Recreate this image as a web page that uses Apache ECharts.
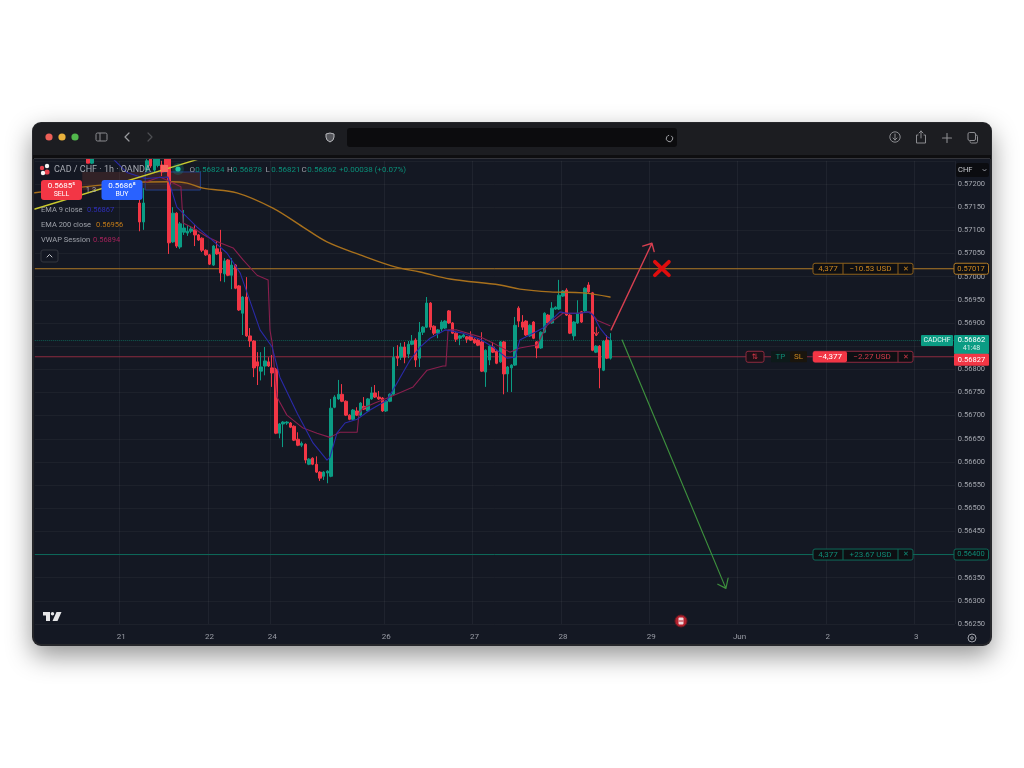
<!DOCTYPE html>
<html><head><meta charset="utf-8">
<script src="https://cdn.jsdelivr.net/npm/echarts@6/dist/echarts.min.js"></script>
<style>html,body{margin:0;padding:0;background:#fff}#c{width:1024px;height:768px;filter:blur(0.35px)}</style>
</head><body><div id="c"></div>
<script>
// ---------- data ----------
const firstBar = 14;
const barCount = 250;
const dayLabels = ['21','22','24','26','27','28','29','Jun','2','3'];
const dayBars = [23,47,64,95,119,143,167,191,215,239];
const priceTicksMin = 0.5625, priceTicksMax = 0.5725, priceTickStep = 0.0005;

const opens = [0.57290,0.57245,null,null,null,null,null,null,null,null,null,null,null,null,
0.57159,0.57118,0.57230,0.57273,0.57230,0.57240,0.57241,0.57260,
0.57256,0.57075,0.57137,0.57064,0.57096,0.57094,0.57098,0.57101,0.57090,0.57083,
0.57057,0.57047,0.57025,0.57060,0.57053,0.57006,0.57036,0.57003,0.57025,0.56980,
0.56921,0.56956,0.56872,0.56861,0.56816,0.56796,0.56807,0.56816,0.56803,0.56800,
0.56662,0.56682,0.56684,0.56684,0.56677,0.56649,0.56636,0.56638,0.56595,0.56608,
0.56595,0.56578,0.56569,0.56576,0.56569,0.56718,0.56736,0.56746,0.56731,0.56701,
0.56692,0.56710,0.56701,0.56720,0.56710,0.56736,0.56749,0.56740,0.56738,0.56710,
0.56731,0.56746,0.56828,0.56826,0.56848,0.56833,0.56854,0.56863,0.56824,0.56880,
0.56891,0.56943,0.56893,0.56878,0.56887,0.56889,0.56926,0.56900,0.56878,0.56867,
0.56870,0.56870,0.56872,0.56865,0.56863,0.56859,0.56794,0.56820,0.56848,0.56839,
0.56816,0.56859,0.56790,0.56803,0.56809,0.56932,0.56902,0.56904,0.56872,0.56902,
0.56859,0.56846,0.56880,0.56917,0.56900,0.56930,0.56930,0.56958,0.56971,0.56917,
0.56872,0.56900,0.56924,0.56926,0.56982,0.56965,0.56837,0.56850,0.56798,0.56863,0.56824];
const closes = [0.57245,0.57290,null,null,null,null,null,null,null,null,null,null,null,null,
0.57118,0.57159,0.57250,0.57239,0.57265,0.57270,0.57226,0.57230,
0.57073,0.57137,0.57066,0.57114,0.57105,0.57098,0.57103,0.57090,0.57079,0.57057,
0.57047,0.57027,0.57066,0.57049,0.57008,0.57034,0.57003,0.57025,0.56975,0.56928,
0.56956,0.56872,0.56861,0.56803,0.56807,0.56805,0.56818,0.56807,0.56792,0.56662,
0.56682,0.56686,0.56686,0.56675,0.56647,0.56636,0.56640,0.56604,0.56606,0.56595,
0.56578,0.56565,0.56578,0.56580,0.56716,0.56740,0.56746,0.56731,0.56701,0.56692,
0.56712,0.56701,0.56727,0.56714,0.56736,0.56749,0.56740,0.56736,0.56710,0.56731,
0.56746,0.56826,0.56824,0.56848,0.56826,0.56854,0.56861,0.56820,0.56880,0.56891,
0.56943,0.56891,0.56878,0.56885,0.56902,0.56904,0.56900,0.56878,0.56865,0.56872,
0.56874,0.56865,0.56863,0.56857,0.56852,0.56796,0.56841,0.56850,0.56837,0.56813,
0.56859,0.56790,0.56805,0.56809,0.56895,0.56904,0.56891,0.56874,0.56895,0.56867,
0.56846,0.56880,0.56921,0.56900,0.56932,0.56934,0.56960,0.56969,0.56917,0.56878,
0.56902,0.56921,0.56902,0.56975,0.56967,0.56841,0.56850,0.56803,0.56861,0.56824,0.56862];
const lows = [0.57245,0.57243,null,null,null,null,null,null,null,null,null,null,null,null,
0.57098,0.57101,0.57226,0.57235,0.57226,0.57236,0.57217,0.57226,
0.57049,0.57073,0.57062,0.57060,0.57090,0.57088,0.57094,0.57066,0.57077,0.57053,
0.57045,0.57025,0.57023,0.57047,0.56990,0.56988,0.57001,0.56973,0.56973,0.56926,
0.56874,0.56870,0.56848,0.56783,0.56766,0.56776,0.56787,0.56805,0.56762,0.56660,
0.56651,0.56632,0.56680,0.56673,0.56645,0.56634,0.56632,0.56597,0.56593,0.56593,
0.56576,0.56559,0.56561,0.56554,0.56567,0.56716,0.56734,0.56729,0.56699,0.56690,
0.56690,0.56699,0.56699,0.56712,0.56708,0.56734,0.56738,0.56734,0.56708,0.56708,
0.56729,0.56744,0.56807,0.56820,0.56813,0.56824,0.56852,0.56805,0.56805,0.56874,
0.56889,0.56885,0.56874,0.56867,0.56882,0.56887,0.56898,0.56876,0.56859,0.56852,
0.56868,0.56857,0.56861,0.56855,0.56850,0.56794,0.56762,0.56809,0.56835,0.56811,
0.56814,0.56746,0.56751,0.56751,0.56807,0.56891,0.56885,0.56872,0.56870,0.56865,
0.56824,0.56844,0.56878,0.56898,0.56898,0.56928,0.56928,0.56956,0.56915,0.56876,
0.56863,0.56898,0.56900,0.56924,0.56965,0.56839,0.56835,0.56759,0.56796,0.56822,0.56821];
const highs = [0.57295,0.57295,null,null,null,null,null,null,null,null,null,null,null,null,
0.57176,0.57191,0.57260,0.57280,0.57270,0.57275,0.57250,0.57265,
0.57262,0.57150,0.57139,0.57118,0.57144,0.57111,0.57109,0.57111,0.57092,0.57085,
0.57059,0.57049,0.57068,0.57077,0.57101,0.57040,0.57038,0.57040,0.57027,0.56982,
0.56958,0.56999,0.56889,0.56863,0.56837,0.56837,0.56848,0.56826,0.56831,0.56803,
0.56684,0.56688,0.56688,0.56686,0.56679,0.56664,0.56644,0.56640,0.56608,0.56610,
0.56612,0.56580,0.56580,0.56582,0.56736,0.56744,0.56777,0.56768,0.56733,0.56703,
0.56714,0.56718,0.56729,0.56740,0.56738,0.56762,0.56766,0.56753,0.56740,0.56733,
0.56748,0.56848,0.56852,0.56857,0.56859,0.56861,0.56874,0.56867,0.56902,0.56893,
0.56956,0.56945,0.56895,0.56887,0.56906,0.56906,0.56928,0.56902,0.56880,0.56874,
0.56876,0.56872,0.56882,0.56867,0.56865,0.56880,0.56843,0.56852,0.56859,0.56841,
0.56861,0.56861,0.56807,0.56811,0.56913,0.56936,0.56917,0.56906,0.56897,0.56904,
0.56861,0.56882,0.56923,0.56919,0.56945,0.56936,0.56993,0.56971,0.56975,0.56919,
0.56904,0.56949,0.56926,0.56977,0.56988,0.56967,0.56852,0.56852,0.56863,0.56874,0.56878];

// indicator vertices: [bar position, price]
const ema9 = [[21.3,0.57254],[25,0.57225],[30,0.57212],[36.2,0.57215],[37.3,0.57183],[38.6,0.57150],[40.8,0.57133],[44.1,0.57107],[47.6,0.57083],[52.2,0.57051],[55.8,0.57008],[57.7,0.56965],[61.2,0.56885],[64.5,0.56848],[66.6,0.56783],[71.3,0.56705],[75.6,0.56641],[79.4,0.56604],[80.2,0.56610],[82.1,0.56662],[84.3,0.56684],[87.6,0.56692],[91.1,0.56712],[95.7,0.56733],[98.4,0.56770],[102,0.56820],[104.7,0.56848],[107.4,0.56867],[111.5,0.56885],[116.4,0.56878],[121,0.56865],[124.5,0.56848],[128.3,0.56824],[130.5,0.56826],[131.8,0.56863],[135.4,0.56878],[138.1,0.56889],[142.7,0.56924],[144.6,0.56921],[148.1,0.56921],[150.3,0.56924],[151.7,0.56917],[153.6,0.56889],[155.5,0.56870],[156.3,0.56867]];
const ema200 = [[0,0.57181],[28.6,0.57204],[36.7,0.57205],[41.4,0.57202],[45.7,0.57191],[54.9,0.57181],[64.7,0.57148],[72.9,0.57107],[79.4,0.57075],[88.4,0.57047],[97.9,0.57021],[104.7,0.57010],[112.8,0.56995],[126.4,0.56982],[131.8,0.56973],[140,0.56967],[149,0.56965],[156.3,0.56956]];
const vwap = [[30,0.57204],[34,0.57215],[37.6,0.57202],[39.7,0.57194],[40.3,0.57116],[43,0.57105],[46.8,0.57086],[50.3,0.57073],[53.9,0.57062],[56.6,0.57036],[60.4,0.57003],[63.4,0.56993],[63.9,0.56885],[64.5,0.56857],[65.8,0.56740],[68.5,0.56701],[72.9,0.56673],[76.7,0.56662],[80.2,0.56653],[82.9,0.56664],[87.6,0.56664],[88.1,0.56705],[89.2,0.56716],[92.4,0.56727],[96.5,0.56740],[102.8,0.56762],[106.6,0.56798],[110.9,0.56807],[111.7,0.56807],[112.3,0.56885],[114.7,0.56885],[121,0.56870],[124.5,0.56857],[129.1,0.56837],[131.8,0.56846],[135.9,0.56852],[136.5,0.56852],[139.2,0.56895],[143.5,0.56921],[147.4,0.56921],[150.9,0.56924],[152.8,0.56906],[156.3,0.56894]];
const stopPrice = 0.57017, entryPrice = 0.56827, targetPrice = 0.56400, lastPrice = 0.56862;
const yellowTrend = [[0.05,0.57146],[45.4,0.57256]];
const upArrow = [[156.6,0.56885],[167.7,0.57072],[165.2,0.57066],[167.7,0.57072],[168.3,0.57054]];
const downArrow = [[159.6,0.56863],[187.8,0.56327],[185.6,0.56336],[187.8,0.56327],[188.4,0.56349]];
const sellMark = [[152.6,0.56891],[152.6,0.56872],[152.0,0.56880],[152.6,0.56872],[153.2,0.56880]];
const crossA = [[168.5,0.57032],[172.3,0.57003]];
const crossB = [[168.5,0.57003],[172.3,0.57032]];

// ---------- chart ----------
const chart = echarts.init(document.getElementById('c'), null, {renderer:'canvas'});
const FONT = 'Roboto';
const GREEN = '#0b9c84', RED = '#f23645', BG = '#141823';
const categories = Array.from({length:barCount}, (_,i)=>{
  const k = dayBars.indexOf(i); return k>=0 ? dayLabels[k] : 'b'+i;
});
const candleData = Array.from({length:barCount}, (_,i)=>{
  const k = i-firstBar;
  if (k<0 || k>=opens.length || opens[k]==null) return ['-','-','-','-'];
  return [opens[k],closes[k],lows[k],highs[k]];
});
const line = (data,color,width,extra)=>Object.assign({
  type:'line', xAxisIndex:1, yAxisIndex:0, data, showSymbol:false, symbol:'none', silent:true,
  animation:false, lineStyle:{color,width,cap:'round',join:'round'}
},extra||{});
const level = (p,color,type)=>line([[0,p],[barCount,p]],color,1,{lineStyle:{color,width:1,type:type||'solid'},z:1});

chart.setOption({
  animation:false,
  backgroundColor:'#ffffff',
  grid:{left:34.8,top:160.84,width:920,height:463.2,containLabel:false},
  xAxis:[{
    type:'category',data:categories,boundaryGap:true,
    axisLine:{show:false},axisTick:{show:false},
    axisLabel:{color:'#9a9da6',fontFamily:FONT,fontSize:8,margin:9,
      interval:(i)=>dayBars.includes(i)},
    splitLine:{show:true,interval:(i)=>dayBars.includes(i),lineStyle:{color:'rgba(255,255,255,0.05)',width:1}}
  },{type:'value',min:0,max:barCount,show:false}],
  yAxis:{
    type:'value',position:'right',min:priceTicksMin,max:priceTicksMax,interval:priceTickStep,scale:true,
    axisLine:{show:false},axisTick:{show:false},
    axisLabel:{color:'#a3a6ae',fontFamily:FONT,fontSize:7.5,margin:3,
      formatter:(v)=>v>=priceTicksMax-1e-7?'':v.toFixed(5)},
    splitLine:{show:true,lineStyle:{color:'rgba(255,255,255,0.04)',width:1}}
  },
  series:[
    level(stopPrice,'#b07a26'),
    level(entryPrice,'#8d2a3f'),
    level(targetPrice,'#0d6a5a'),
    level(lastPrice,'#0c5f52','dotted'),
    line([[12.9,0.57226],[12.9,0.57226]],'transparent',0,{markArea:{silent:true,itemStyle:{color:'rgba(130,60,50,0.28)'},
      data:[[{coord:[12.9,0.57226]},{coord:[30,0.57187]}]]}}),
    line([[30,0.57226],[30,0.57226]],'transparent',0,{markArea:{silent:true,itemStyle:{color:'rgba(130,60,50,0.30)',borderColor:'#23408c',borderWidth:1},
      data:[[{coord:[30,0.57226]},{coord:[45,0.57187]}]]}}),
    {type:'candlestick',xAxisIndex:0,yAxisIndex:0,data:candleData,barWidth:3,animation:false,silent:true,z:2,
      itemStyle:{color:GREEN,color0:RED,borderColor:GREEN,borderColor0:RED,borderWidth:1}},
    line(ema200,'#a8701c',1.4,{z:3,smooth:0.35}),
    line(vwap,'#8a1f4e',1.1,{z:3}),
    line(ema9,'#2a2aa8',1.1,{z:3}),
    line(yellowTrend,'#c9c92e',1.4,{z:3}),
    line(upArrow,'#d63f50',1.4,{z:4}),
    line(downArrow,'#3d8f3d',1.2,{z:4}),
    line(sellMark,'#f23645',1,{z:4}),
    line(crossA,'#e00d0d',3.8,{z:5}),
    line(crossB,'#e00d0d',3.8,{z:5})
  ]
});

const yOf = (p)=>chart.convertToPixel({yAxisIndex:0},p);
function T(x,y,text,fill,size,opt){return {type:'text',z:60,silent:true,style:Object.assign({x,y,text,fill,fontSize:size||8,fontFamily:FONT,align:'left',verticalAlign:'middle'},opt||{})};}
function R(x,y,w,h,fill,stroke,r,opt){return {type:'rect',z:(opt&&opt.z)||55,silent:true,shape:{x,y,width:w,height:h,r:r||0},style:Object.assign({fill:fill||'transparent',stroke:stroke||null,lineWidth:stroke?1:0},(opt&&opt.style)||{})};}
function L(x1,y1,x2,y2,stroke,lw,z){return {type:'line',z:z||56,silent:true,shape:{x1,y1,x2,y2},style:{stroke,lineWidth:lw||1,lineCap:'round'}};}
function P(points,stroke,lw,z){return {type:'polyline',z:z||56,silent:true,shape:{points},style:{stroke,fill:null,lineWidth:lw||1.2,lineCap:'round',lineJoin:'round'}};}
function G(points,fill,stroke,z){return {type:'polygon',z:z||60,silent:true,shape:{points},style:{fill,stroke:stroke||null,lineWidth:stroke?1:0}};}
function C(cx,cy,r,fill,stroke,lw,z){return {type:'circle',z:z||56,silent:true,shape:{cx,cy,r},style:{fill:fill||'transparent',stroke:stroke||null,lineWidth:lw||1}};}

const els = [];
// window body
els.push({type:'rect',z:-20,silent:true,shape:{x:32,y:122,width:960,height:524,r:9},
  style:{fill:'#26272b',shadowBlur:26,shadowColor:'rgba(0,0,0,0.42)',shadowOffsetY:10}});
els.push({type:'rect',z:-19,silent:true,shape:{x:34,y:157,width:956,height:487,r:[0,0,7,7]},style:{fill:BG}});
// toolbar
els.push(R(33,123,958,33,'#1c1d21',null,[8,8,0,0],{z:70}));
els.push(R(33,155,958,4,'#0e0e10',null,0,{z:70}));
els.push(R(34,158,956,1,'#33343a',null,0,{z:70}));
['#ec5f57','#e9b23c','#52b84c'].forEach((c,i)=>els.push(C(49+i*13,137,3.6,c,null,1,71)));
els.push(R(96,133,11,8,null,'#8b8c90',1.5,{z:71}));els.push(L(100,133.5,100,140.5,'#8b8c90',1,71));
els.push(P([[129,133],[125,137],[129,141]],'#9a9b9f',1.2,71));
els.push(P([[148,133],[152,137],[148,141]],'#4d4e52',1.2,71));
els.push(G([[330,133],[334,134],[334,137],[333,140],[330,142],[327,140],[326,137],[326,134]],'#54555a','#b8b9bd',71));
els.push(R(347,128,330,19,'#0c0c0e',null,3,{z:71}));
els.push({type:'arc',z:72,silent:true,shape:{cx:669.5,cy:138.5,r:3.2,startAngle:-1.0,endAngle:4.6},style:{stroke:'#a0a1a5',lineWidth:1,fill:null}});
els.push(C(895,137,5.2,null,'#8b8c90',1,71));els.push(P([[895,134],[895,140]],'#8b8c90',1,71));els.push(P([[893,138],[895,140],[897,138]],'#8b8c90',1,71));
els.push(P([[918,135],[916.5,135],[916.5,143],[925.5,143],[925.5,135],[924,135]],'#8b8c90',1,71));els.push(P([[921,138],[921,131]],'#8b8c90',1,71));els.push(P([[919,133],[921,131],[923,133]],'#8b8c90',1,71));
els.push(L(942.5,138,951.5,138,'#8b8c90',1.1,71));els.push(L(947,133.5,947,142.5,'#8b8c90',1.1,71));
els.push(R(970,135,7.5,8,null,'#8b8c90',1.5,{z:71}));els.push(R(968,132.5,7.5,8,'#1c1d21','#8b8c90',1.5,{z:72}));

// header legend
els.push(C(42,168,2.2,'#e8434f',null,1,60));els.push(C(47,166,2.2,'#f5f5f5',null,1,60));els.push(C(47,172,2.6,'#e8434f',null,1,60));els.push(C(43,173,2.2,'#f5f5f5',null,1,60));
els.push(T(54,170,'CAD / CHF · 1h · OANDA','#a7aab2',9));
els.push(R(161,165,7,7,'#f8655f',null,0,{z:60}));
els.push(C(178,169,6,'rgba(20,170,140,0.22)',null,1,60));els.push(C(178,169,2.6,'#1fc4a3',null,1,61));
[['O','0.56824'],['H','0.56878'],['L','0.56821'],['C','0.56862']].forEach(([a,b],i)=>{
  const x=[189.5,227,265.5,301.5][i];
  els.push(T(x,170,a,'#9a9da6',8));els.push(T(x+5.8,170,b,'#0a8f79',8));
});
els.push(T(339,170,'+0.00038 (+0.07%)','#0a8f79',8));
els.push(R(41,180,41,20,'#f23645',null,3,{z:60}));
els.push(T(61.5,186,'0.5685⁵','#ffffff',8,{align:'center'}));els.push(T(61.5,194.5,'SELL','#ffffff',7,{align:'center'}));
els.push(T(91,190,'1.3','#a7aab2',7.5,{align:'center'}));
els.push(R(101.5,180,41,20,'#2962ff',null,3,{z:60}));
els.push(T(122,186,'0.5686⁸','#ffffff',8,{align:'center'}));els.push(T(122,194.5,'BUY','#ffffff',7,{align:'center'}));
els.push(T(41,210,'EMA 9 close','#9ea1a9',7.5));els.push(T(87,210,'0.56867','#2e2eb8',7.5));
els.push(T(41,225,'EMA 200 close','#9ea1a9',7.5));els.push(T(96,225,'0.56956','#c07a18',7.5));
els.push(T(41,240,'VWAP Session','#9ea1a9',7.5));els.push(T(93,240,'0.56894','#a3225a',7.5));
els.push(R(41,250,17,12,'#141823','#33363f',2,{z:60}));els.push(P([[47,257],[49.5,254.5],[52,257]],'#c5c7cc',1,61));

// CHF selector
els.push(R(956,163,33,14,'#0b0c10',null,2,{z:60}));els.push(T(958,170,'CHF','#c9cbd0',7.5));els.push(P([[983,169.5],[984.5,171],[986,169.5]],'#9ea1a9',1,61));

// order tickets, placed from their prices
const ySL=yOf(stopPrice), yEN=yOf(entryPrice), yTP=yOf(targetPrice), yLP=yOf(lastPrice);
function ticket(y,color,qty,usd,textCol){
  els.push(R(813,y-5.5,100,11,'#0e0f13',color,2));
  els.push(L(843,y-5,843,y+5,color,1,57));els.push(L(898,y-5,898,y+5,color,1,57));
  els.push(T(828,y,qty,textCol,8,{align:'center'}));
  els.push(T(870.5,y,usd,textCol,8,{align:'center'}));
  els.push(T(906,y,'✕',textCol,7,{align:'center',fontFamily:'DejaVu Sans'}));
}
ticket(ySL,'#8d611c','4,377','−10.53 USD','#c9851f');
ticket(yTP,'#0d6a5a','4,377','+23.67 USD','#0f8a75');
// entry ticket
els.push(R(746,yEN-5.5,18,11,'#1c1017','#8d2a3f',2));els.push(T(755,yEN,'⇅','#e0394a',7.5,{align:'center',fontFamily:'DejaVu Sans'}));
els.push(R(771,yEN-5.5,19,11,'#0d1a1a',null,1));els.push(T(780.5,yEN,'TP','#0f8a75',8,{align:'center'}));
els.push(R(790,yEN-5.5,17,11,'#1a150d',null,1));els.push(T(798.5,yEN,'SL','#c9851f',8,{align:'center'}));
els.push(R(813,yEN-5.5,100,11,'#0e0f13','#8d2a3f',2));
els.push(R(813,yEN-5.5,34,11,'#f23645',null,2,{z:56}));
els.push(T(830,yEN,'−4,377','#ffffff',8,{align:'center'}));
els.push(T(872,yEN,'−2.27 USD','#d13a49',8,{align:'center'}));
els.push(L(898,yEN-5,898,yEN+5,'#8d2a3f',1,57));
els.push(T(906,yEN,'✕','#d13a49',7,{align:'center',fontFamily:'DejaVu Sans'}));
// price tags
els.push(R(954,ySL-5.5,34.5,11,'#0e0f13','#b07a26',2));els.push(T(971,ySL,'0.57017','#d08a20',7.5,{align:'center'}));
els.push(R(954,yTP-5.5,34.5,11,'#0e0f13','#0d6a5a',2));els.push(T(971,yTP,'0.56400','#0f8a75',7.5,{align:'center'}));
els.push(R(921,yLP-5.5,32,11,'#0b9c84',null,1));els.push(T(937,yLP,'CADCHF','#e8f5f2',7,{align:'center'}));
els.push(R(954,yLP-5.5,35,19,'#0b9c84',null,1));els.push(T(971.5,yLP,'0.56862','#ffffff',7.5,{align:'center'}));els.push(T(971.5,yLP+8,'41:48','#d8efe9',7,{align:'center'}));
els.push(R(954,yEN-3,35,12,'#f23645',null,1,{z:57}));els.push(T(971.5,yEN+3,'0.56827','#ffffff',7.5,{align:'center'}));

// footer marks
els.push(G([[43,612],[50,612],[50,621],[46,621],[46,615.5],[43,615.5]],'#e6e6e8'));
els.push(G([[56.5,612],[61.5,612],[57.5,621],[52.5,621]],'#e6e6e8'));
els.push(C(52.5,613.7,1.7,'#e6e6e8',null,1,60));
els.push(C(681,621,6,'#b3202d',null,1,60));els.push(C(681,621,6,null,'#6c1a22',1,60));els.push(R(678.5,617.5,5,7,'#f2d9dc',null,1,{z:61}));els.push(L(679,621,683,621,'#b3202d',1,62));
els.push(C(972,638,4,null,'#9ea1a9',1,60));els.push(C(972,638,1.3,null,'#9ea1a9',1,60));

chart.setOption({graphic:{elements:els}});
</script>
</body></html>
